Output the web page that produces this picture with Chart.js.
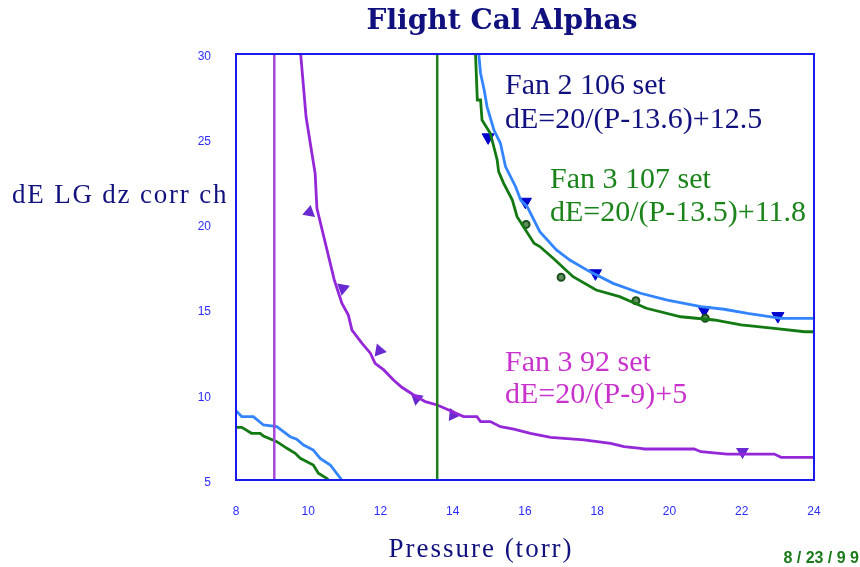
<!DOCTYPE html>
<html>
<head>
<meta charset="utf-8">
<title>Flight Cal Alphas</title>
<script src="https://cdn.jsdelivr.net/npm/chart.js@4/dist/chart.umd.min.js"></script>
<style>
  html, body { margin: 0; padding: 0; background: #ffffff; }
  #wrap { width: 860px; height: 567px; }
</style>
</head>
<body>
<div id="wrap"><canvas id="c" width="860" height="567"></canvas></div>
<script>
// Axis ranges and tick values
const xTicks = [8, 10, 12, 14, 16, 18, 20, 22, 24];
const yTicks = [5, 10, 15, 20, 25, 30];

// Fan 3, 92 set: measured dE vs pressure (torr)
const fan392P  = [9.79, 9.94, 10.19, 10.24, 10.72, 10.93, 11.11, 11.21, 11.49, 11.72, 11.85, 12.09, 12.36, 12.59, 12.92, 13.24, 13.57, 13.84, 14.3, 14.67, 14.77, 15.04, 15.32, 15.69, 16.15, 16.71, 17.63, 18.37, 18.74, 19.2, 19.3, 20.68, 20.87, 21.6, 22.9, 23.09, 24.0];
const fan392dE = [30.0, 26.3, 23.0, 20.94, 16.74, 15.37, 14.68, 13.8, 13.02, 12.44, 11.85, 11.46, 10.87, 10.44, 9.99, 9.6, 9.4, 9.15, 8.72, 8.72, 8.43, 8.43, 8.13, 7.98, 7.74, 7.5, 7.35, 7.15, 6.96, 6.86, 6.82, 6.82, 6.66, 6.52, 6.52, 6.33, 6.33];
// Fan 3, 92 set: calibration points
const fan392PtP  = [10.03, 10.96, 11.97, 13.0, 14.01, 22.02];
const fan392PtdE = [20.71, 16.25, 12.59, 9.79, 8.82, 6.66];
const fan392PtRot = [250, 190, 220, 190, 215, 180];

// Fan 2, 106 set: low-pressure branch and high-pressure branch
const fan2LowP  = [8.0, 8.16, 8.48, 8.76, 9.13, 9.5, 9.68, 9.87, 10.14, 10.33, 10.61, 10.93];
const fan2LowdE = [9.07, 8.72, 8.72, 8.23, 8.13, 7.54, 7.39, 7.05, 6.76, 6.27, 5.88, 5.0];
const fan2HighP  = [14.72, 14.77, 14.87, 14.95, 15.14, 15.32, 15.35, 15.46, 15.74, 15.88, 16.06, 16.41, 16.87, 17.24, 17.79, 18.44, 19.2, 19.94, 20.87, 21.51, 22.16, 23.09, 24.0];
const fan2HighdE = [30.0, 28.87, 27.89, 26.9, 25.54, 24.76, 24.47, 23.39, 22.21, 21.43, 21.04, 19.57, 18.5, 17.91, 17.23, 16.54, 15.96, 15.56, 15.17, 15.02, 14.78, 14.49, 14.49];
// Fan 2, 106 set: calibration points
const fan2PtP  = [14.98, 16.01, 17.95, 20.96, 23.0];
const fan2PtdE = [25.11, 21.33, 17.13, 14.96, 14.62];

// Fan 3, 107 set: low-pressure branch and high-pressure branch
const fan3LowP  = [8.0, 8.16, 8.43, 8.67, 8.76, 9.13, 9.41, 9.64, 9.78, 10.14, 10.28, 10.51, 10.56];
const fan3LowdE = [8.09, 8.09, 7.74, 7.74, 7.58, 7.25, 6.86, 6.57, 6.27, 5.88, 5.4, 5.1, 5.0];
const fan3HighP  = [14.63, 14.68, 14.77, 14.81, 15.04, 15.23, 15.27, 15.41, 15.65, 15.78, 16.25, 16.41, 16.78, 17.33, 17.97, 18.62, 19.36, 20.31, 21.24, 21.98, 22.9, 23.74, 24.0];
const fan3HighdE = [30.0, 27.3, 27.3, 26.13, 25.35, 23.78, 23.1, 22.41, 21.43, 20.45, 18.89, 18.7, 18.01, 16.93, 16.15, 15.76, 15.08, 14.58, 14.39, 14.1, 13.9, 13.7, 13.7];
// Fan 3, 107 set: calibration points
const fan3PtP  = [16.03, 17.0, 19.07, 20.99];
const fan3PtdE = [20.0, 16.9, 15.52, 14.49];

// Pressure asymptotes of the two fitted curves
const asymPurple = 9.06;
const asymGreen = 13.57;

// Annotation text
const titleText = 'Flight Cal Alphas';
const yTitle = 'dE LG dz corr ch';
const xTitle = 'Pressure (torr)';
const dateText = '8 / 23 / 9 9';
const fan2Label = ['Fan 2 106 set', 'dE=20/(P-13.6)+12.5'];
const fan3Label = ['Fan 3 107 set', 'dE=20/(P-13.5)+11.8'];
const fan392Label = ['Fan 3 92 set', 'dE=20/(P-9)+5'];

const toXY = (xs, ys) => xs.map((x, i) => ({ x: x, y: ys[i] }));
// join two branches with a gap between them
const branches = (xa, ya, xb, yb) =>
  toXY(xa, ya).concat([{ x: (xa[xa.length - 1] + xb[0]) / 2, y: null }], toXY(xb, yb));

const NAVY = '#10107e';
const BLUE_LINE = '#3385ff';
const GREEN_LINE = '#137a13';
const PURPLE_LINE = '#9428d8';

const textPlugin = {
  id: 'chartText',
  afterDraw(chart) {
    const ctx = chart.ctx;
    const a = chart.chartArea;
    ctx.save();
    // plot frame
    ctx.strokeStyle = '#1a1aee';
    ctx.lineWidth = 2;
    ctx.strokeRect(a.left, a.top, a.right - a.left, a.bottom - a.top);

    ctx.textBaseline = 'alphabetic';
    // title
    ctx.fillStyle = NAVY;
    ctx.font = 'bold 28px "DejaVu Serif"';
    ctx.textAlign = 'center';
    ctx.fillText(titleText, 502, 29);

    // axis titles
    ctx.font = '27px "Liberation Serif"';
    ctx.letterSpacing = '1.8px';
    ctx.textAlign = 'left';
    ctx.fillText(yTitle, 12, 203);
    ctx.letterSpacing = '2px';
    ctx.textAlign = 'center';
    ctx.fillText(xTitle, 481, 557);
    ctx.letterSpacing = '0px';

    // curve annotations
    ctx.textAlign = 'left';
    ctx.font = '30px "Liberation Serif"';
    ctx.fillStyle = NAVY;
    ctx.fillText(fan2Label[0], 505, 94);
    ctx.fillText(fan2Label[1], 505, 128);
    ctx.fillStyle = '#1a841a';
    ctx.fillText(fan3Label[0], 550, 188);
    ctx.fillText(fan3Label[1], 550, 221);
    ctx.fillStyle = '#c833cc';
    ctx.fillText(fan392Label[0], 505, 371);
    ctx.fillText(fan392Label[1], 505, 403);

    // date stamp
    ctx.fillStyle = '#1a7a1a';
    ctx.font = 'bold 16px "Liberation Sans"';
    ctx.textAlign = 'right';
    ctx.fillText(dateText, 859, 563);
    ctx.restore();
  }
};

new Chart(document.getElementById('c'), {
  type: 'scatter',
  data: {
    datasets: [
      {
        label: 'asymptote P=9',
        data: [{ x: asymPurple, y: yTicks[0] }, { x: asymPurple, y: yTicks[yTicks.length - 1] }],
        showLine: true, borderColor: '#a448dc', borderWidth: 2.5, pointRadius: 0
      },
      {
        label: 'asymptote P=13.5',
        data: [{ x: asymGreen, y: yTicks[0] }, { x: asymGreen, y: yTicks[yTicks.length - 1] }],
        showLine: true, borderColor: '#1e7e1e', borderWidth: 2.5, pointRadius: 0
      },
      {
        label: 'Fan 3 92 set',
        data: toXY(fan392P, fan392dE),
        showLine: true, borderColor: PURPLE_LINE, borderWidth: 2.8, pointRadius: 0, tension: 0
      },
      {
        label: 'Fan 3 107 set',
        data: branches(fan3LowP, fan3LowdE, fan3HighP, fan3HighdE),
        showLine: true, spanGaps: false, borderColor: GREEN_LINE, borderWidth: 2.8, pointRadius: 0, tension: 0
      },
      {
        label: 'Fan 2 106 set',
        data: branches(fan2LowP, fan2LowdE, fan2HighP, fan2HighdE),
        showLine: true, spanGaps: false, borderColor: BLUE_LINE, borderWidth: 2.8, pointRadius: 0, tension: 0
      },
      {
        label: 'Fan 3 92 points',
        data: toXY(fan392PtP, fan392PtdE),
        pointStyle: 'triangle', rotation: fan392PtRot, pointRadius: 6,
        backgroundColor: '#6a2ad2', borderColor: '#6a2ad2', borderWidth: 1.5
      },
      {
        label: 'Fan 3 107 points',
        data: toXY(fan3PtP, fan3PtdE),
        pointStyle: 'circle', pointRadius: 3.5,
        backgroundColor: '#5f8f5f', borderColor: '#1d4f1d', borderWidth: 2
      },
      {
        label: 'Fan 2 106 points',
        data: toXY(fan2PtP, fan2PtdE),
        pointStyle: 'triangle', rotation: 180, pointRadius: 7,
        backgroundColor: '#0000cc', borderColor: '#0000cc', borderWidth: 1
      }
    ]
  },
  options: {
    responsive: false,
    animation: false,
    events: [],
    layout: { padding: { top: 54, right: 46, left: 0, bottom: 0 } },
    plugins: {
      legend: { display: false },
      tooltip: { enabled: false },
      title: { display: false }
    },
    scales: {
      x: {
        type: 'linear',
        min: xTicks[0], max: xTicks[xTicks.length - 1],
        afterFit(scale) { scale.height = 87; },
        afterBuildTicks(scale) { scale.ticks = xTicks.map(v => ({ value: v })); },
        grid: { display: false, drawTicks: false },
        border: { display: false },
        ticks: {
          padding: 24,
          color: '#2c2cff',
          font: { family: '"Liberation Sans"', size: 12 },
          maxRotation: 0
        }
      },
      y: {
        type: 'linear',
        min: yTicks[0], max: yTicks[yTicks.length - 1],
        afterFit(scale) { scale.width = 236; },
        afterBuildTicks(scale) { scale.ticks = yTicks.map(v => ({ value: v })); },
        grid: { display: false, drawTicks: false },
        border: { display: false },
        ticks: {
          padding: 25,
          labelOffset: 2.5,
          color: '#2c2cff',
          font: { family: '"Liberation Sans"', size: 12 }
        }
      }
    }
  },
  plugins: [textPlugin]
});
</script>
</body>
</html>
